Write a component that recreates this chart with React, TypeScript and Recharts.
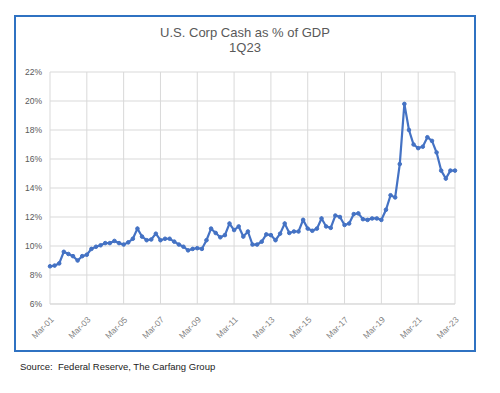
import React from "react";
import { LineChart, Line, XAxis, YAxis, CartesianGrid } from "recharts";

const months = ["Mar", "Jun", "Sep", "Dec"];
const startYear = 2001;

const cashPct: number[] = [
  8.6, 8.65, 8.8, 9.6, 9.45, 9.3, 9.0, 9.3,
  9.4, 9.8, 9.95, 10.05, 10.2, 10.2, 10.35, 10.2,
  10.1, 10.25, 10.5, 11.2, 10.65, 10.4, 10.45, 10.85,
  10.4, 10.5, 10.5, 10.3, 10.1, 9.95, 9.7, 9.8,
  9.85, 9.8, 10.4, 11.2, 10.9, 10.6, 10.75, 11.55,
  11.1, 11.35, 10.65, 11.0, 10.1, 10.1, 10.3, 10.8,
  10.75, 10.4, 10.85, 11.55, 10.9, 11.0, 11.0, 11.8,
  11.2, 11.05, 11.2, 11.9, 11.35, 11.25, 12.1, 12.0,
  11.45, 11.55, 12.2, 12.25, 11.85, 11.8, 11.9, 11.9,
  11.8, 12.5, 13.5, 13.35, 15.65, 19.8, 18.0, 17.0,
  16.75, 16.85, 17.5, 17.25, 16.45, 15.2, 14.65, 15.2,
  15.2,
];

const quarterLabels: string[] = cashPct.map((_, i) => {
  const yr = startYear + Math.floor(i / 4);
  return `${months[i % 4]}-${String(yr % 100).padStart(2, "0")}`;
});

const xTickLabels: string[] = [
  "Mar-01", "Mar-03", "Mar-05", "Mar-07", "Mar-09", "Mar-11",
  "Mar-13", "Mar-15", "Mar-17", "Mar-19", "Mar-21", "Mar-23",
];

const yTicks: number[] = [6, 8, 10, 12, 14, 16, 18, 20, 22];

const data = quarterLabels.map((q, i) => ({ q, v: cashPct[i] }));

const font = "'Liberation Sans', Arial, sans-serif";

export default function App() {
  return (
    <div
      style={{
        position: "absolute",
        left: 0,
        top: 0,
        width: 500,
        height: 393,
        background: "#fff",
        fontFamily: font,
        overflow: "hidden",
      }}
    >
      <div
        style={{
          position: "absolute",
          left: 14,
          top: 15,
          width: 458,
          height: 333,
          border: "2px solid #2f72c2",
        }}
      />
      <div
        style={{
          position: "absolute",
          left: 0,
          width: 490,
          top: 25,
          textAlign: "center",
          color: "#595959",
          fontSize: 13,
          lineHeight: "15px",
        }}
      >
        U.S. Corp Cash as % of GDP
        <br />
        1Q23
      </div>
      <div style={{ position: "absolute", left: 0, top: 0 }}>
        <LineChart
          width={500}
          height={393}
          data={data}
          margin={{ top: 72, right: 45, bottom: 49, left: 10 }}
        >
          <CartesianGrid stroke="#d9d9d9" strokeWidth={1} />
          <XAxis
            dataKey="q"
            ticks={xTickLabels}
            interval={0}
            axisLine={{ stroke: "#d9d9d9" }}
            tickLine={false}
            angle={-45}
            textAnchor="end"
            height={40}
            tick={{ fill: "#7f7f7f", fontSize: 8.5, fontFamily: font }}
            tickMargin={6}
          />
          <YAxis
            domain={[6, 22]}
            ticks={yTicks}
            width={40}
            axisLine={false}
            tickLine={false}
            tickMargin={2}
            tickFormatter={(v: number) => `${v}%`}
            tick={{ fill: "#595959", fontSize: 8.5, fontFamily: font }}
          />
          <Line
            type="linear"
            dataKey="v"
            stroke="#4472c4"
            strokeWidth={2.2}
            dot={{ r: 1.8, fill: "#4472c4", stroke: "#4472c4", strokeWidth: 1 }}
            isAnimationActive={false}
          />
        </LineChart>
      </div>
      <div
        style={{
          position: "absolute",
          left: 20,
          top: 361,
          fontSize: 9.5,
          color: "#222",
          whiteSpace: "pre",
        }}
      >
        {"Source:  Federal Reserve, The Carfang Group"}
      </div>
    </div>
  );
}
